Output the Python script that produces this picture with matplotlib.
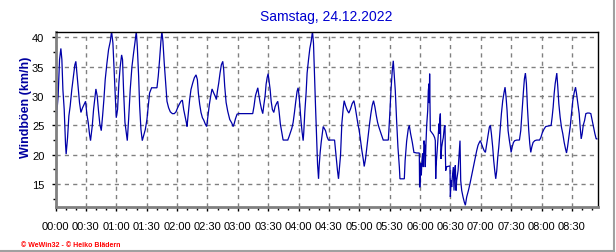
import matplotlib
matplotlib.use("Agg")
import matplotlib.pyplot as plt
from matplotlib.lines import Line2D
from matplotlib.ticker import MultipleLocator

plt.rcParams['font.family'] = ['Liberation Sans', 'DejaVu Sans']

# minutes since 00:00 and gust speed in km/h
minutes = [
    0, 1.3, 2.6, 4.0, 5.3, 6.3, 7.3, 8.6, 9.9, 10.5, 11.9, 13.2, 14.5, 16.1, 17.8,
    19.1, 20.1, 21.1, 22.4, 23.7, 25.1, 26.7, 28.4, 29.7, 31.0, 32.3, 33.6, 34.6,
    36.3, 37.6, 38.9, 39.9, 41.2, 42.5, 43.8, 45.2, 46.5, 47.8, 49.1, 50.8, 52.4,
    54.1, 55.4, 56.7, 58.0, 59.3, 60.0, 61.3, 62.6, 63.9, 65.3, 66.2, 67.2, 68.6,
    69.9, 70.9, 72.2, 73.8, 75.5, 77.1, 78.4, 79.8, 80.8, 82.1, 83.1, 84.4, 85.7,
    87.0, 88.7, 90.3, 91.6, 92.9, 94.9, 97.6, 100.2, 101.5, 102.8, 104.1, 105.1,
    106.1, 107.4, 108.8, 110.1, 111.7, 113.4, 115.4, 117.3, 119.0, 120.6, 122.3,
    123.9, 125.3, 126.6, 127.9, 129.2, 129.9, 131.2, 132.5, 133.8, 135.5, 137.1,
    138.8, 140.1, 141.1, 142.4, 143.7, 145.1, 146.4, 148.0, 149.3, 150.6, 152.0,
    153.3, 154.6, 156.3, 157.9, 158.9, 159.9, 161.2, 162.5, 163.8, 165.2, 166.1,
    167.1, 168.5, 170.1, 172.1, 174.1, 175.4, 176.5, 177.7, 179.3, 180.9, 185.9,
    190.9, 194.8, 196.1, 197.4, 198.8, 199.8, 200.7, 202.1, 203.4, 204.7, 205.7,
    207.0, 208.0, 209.0, 210.0, 211.0, 212.0, 213.0, 214.2, 215.6, 216.9, 218.2,
    219.5, 220.8, 222.1, 223.5, 224.8, 227.1, 229.4, 230.7, 232.0, 233.4, 234.7,
    236.0, 237.3, 238.6, 239.6, 240.6, 241.6, 242.6, 243.6, 244.6, 245.2, 246.2,
    247.5, 248.5, 249.9, 251.2, 252.5, 253.8, 254.8, 255.8, 256.8, 257.8, 258.8,
    259.8, 260.4, 261.4, 262.4, 263.4, 264.4, 265.4, 266.7, 268.3, 269.6, 271.0,
    273.6, 275.6, 276.6, 277.5, 278.5, 279.5, 280.2, 281.5, 282.8, 284.1, 285.1,
    286.4, 288.1, 289.7, 291.4, 293.0, 294.7, 296.0, 297.3, 298.6, 300.0, 301.3,
    302.6, 303.9, 304.9, 306.2, 307.5, 308.9, 310.2, 311.5, 312.8, 314.1, 315.5,
    316.8, 318.1, 319.4, 320.7, 322.1, 323.7, 325.4, 328.7, 330.0, 331.3, 332.6,
    333.6, 334.3, 335.6, 336.9, 338.2, 339.6, 340.2, 341.9, 344.5, 345.3, 346.8,
    348.4, 349.4, 350.7, 352.4, 354.0, 356.7, 359.3, 359.6, 360.0, 360.6, 361.3,
    361.9, 362.6, 363.3, 363.9, 364.6, 365.2, 365.9, 366.6, 367.6, 368.2, 368.9,
    369.2, 369.5, 369.9, 370.2, 371.5, 373.2, 374.5, 375.1, 375.5, 375.8, 376.5,
    377.4, 378.1, 378.8, 379.1, 379.4, 380.1, 380.4, 380.7, 381.4, 382.4, 383.0,
    384.0, 384.7, 385.0, 385.4, 386.0, 387.3, 389.6, 390.0, 390.6, 391.3, 391.9,
    392.9, 393.6, 394.3, 394.9, 395.6, 396.2, 397.6, 398.5, 399.2, 399.5, 400.2,
    401.2, 402.5, 403.8, 404.8, 406.1, 407.8, 409.4, 410.7, 412.0, 413.4, 414.7,
    416.0, 417.3, 418.6, 419.6, 420.6, 421.9, 423.3, 424.6, 425.9, 427.2, 428.5,
    429.5, 430.5, 431.8, 432.8, 433.8, 434.8, 435.8, 436.8, 437.8, 439.1, 440.4,
    441.7, 443.0, 444.0, 445.0, 446.0, 447.0, 448.3, 449.3, 450.0, 451.0, 452.3,
    453.6, 455.6, 458.2, 459.5, 460.8, 462.2, 463.1, 464.1, 465.1, 466.1, 467.4,
    468.4, 469.4, 470.4, 471.7, 473.4, 475.3, 478.0, 479.3, 480.9, 482.6, 484.2,
    486.9, 489.5, 490.5, 491.5, 492.5, 493.5, 494.5, 495.1, 496.1, 497.1, 498.4,
    499.7, 501.0, 502.4, 503.7, 504.7, 505.7, 507.0, 508.3, 509.6, 510.9, 512.3,
    513.6, 514.6, 515.9, 517.2, 518.2, 519.2, 520.2, 521.2, 522.5, 523.8, 525.4,
    527.1, 528.7, 530.1, 531.4, 532.7, 534.0, 534.7,
]
gusts = [
    22.4, 27.2, 30.0, 36.2, 38.1, 36.2, 31.1, 27.7, 21.8, 20.1, 22.9, 26.6, 28.3, 31.1, 33.4,
    35.3, 35.9, 33.9, 31.4, 28.9, 27.2, 28.0, 28.6, 29.1, 26.9, 25.5, 23.5, 22.4,
    24.9, 27.7, 29.7, 31.2, 30.0, 27.4, 25.2, 24.1, 26.6, 29.4, 32.8, 35.6, 37.9,
    39.3, 41.0, 39.0, 33.9, 28.6, 26.3, 27.7, 32.2, 35.0, 37.0, 36.2, 31.1, 25.5,
    23.8, 22.4, 26.0, 31.1, 35.0, 37.3, 39.0, 41.0, 38.4, 33.4, 28.3, 24.3, 22.4,
    23.2, 24.3, 26.0, 28.3, 30.5, 31.4, 31.4, 31.4, 33.4, 36.2, 39.3, 41.0,
    39.3, 35.6, 32.2, 29.1, 28.0, 27.3, 27.0, 27.0, 27.3, 28.0, 28.6,
    29.1, 29.3, 27.7, 26.6, 25.5, 24.8, 27.2, 29.4, 31.1, 32.2, 33.1,
    33.6, 32.8, 30.5, 28.6, 27.2, 26.3, 25.9, 25.2, 24.8, 26.6, 28.6,
    30.0, 31.2, 30.5, 29.9, 29.4, 30.8, 32.2, 33.9, 35.3, 35.9, 34.5,
    31.7, 28.9, 27.4, 26.0, 25.4, 24.8, 25.3, 26.1, 26.9, 27.0, 27.0,
    27.0, 27.0, 28.3, 30.0, 30.8, 31.4, 30.3, 28.9, 27.8, 27.0, 28.4,
    30.0, 32.0, 33.1, 33.8, 32.5, 31.1, 29.1, 27.7, 27.2, 28.2, 28.7,
    29.1, 27.4, 25.2, 23.8, 22.5, 22.5, 22.5, 23.1, 23.8, 24.5, 25.5,
    27.2, 29.1, 30.8, 31.4, 30.0, 27.7, 25.5, 23.8, 22.4, 23.8, 27.2,
    30.5, 33.9, 36.2, 38.1, 39.3, 41.0, 39.0, 33.4, 28.3, 23.2, 18.4,
    15.9, 18.1, 20.4, 22.1, 23.5, 24.8, 24.5, 24.1, 23.0, 22.5, 22.5,
    22.5, 22.5, 20.7, 19.0, 17.3, 15.9, 17.3, 19.9, 25.3, 27.8, 29.2,
    28.4, 27.6, 27.1, 27.8, 28.7, 29.2, 28.1, 26.7, 25.3, 24.1, 22.4,
    20.7, 19.3, 18.0, 19.3, 21.3, 23.3, 25.3, 27.0, 28.4, 29.2, 28.1,
    26.7, 25.5, 24.7, 24.0, 23.3, 22.5, 22.5, 22.5, 26.4, 30.9, 34.3,
    36.0, 34.3, 30.9, 25.8, 21.3, 17.9, 15.9, 15.9, 15.9, 19.0, 22.3,
    24.4, 25.0, 23.6, 22.1, 20.4, 20.3, 20.3, 14.5, 14.5, 18.5, 16.5,
    19.0, 20.2, 17.9, 22.4, 21.6, 17.9, 22.0, 25.0, 27.5, 30.9, 32.1,
    28.8, 33.8, 28.2, 24.1, 23.8, 23.4, 22.9, 22.4, 15.9, 17.9, 19.6,
    21.6, 23.6, 25.3, 23.6, 25.8, 27.0, 23.6, 19.3, 21.3, 22.4, 22.9,
    24.7, 25.0, 20.7, 17.3, 17.9, 18.0, 18.1, 12.8, 15.6, 14.5, 16.2,
    17.9, 13.9, 17.3, 18.2, 13.9, 15.6, 17.3, 19.6, 21.3, 22.4, 15.6,
    13.9, 12.8, 11.9, 11.4, 12.8, 13.9, 15.1, 16.2, 17.3, 18.5, 19.6,
    20.7, 21.6, 22.1, 22.4, 21.9, 21.3, 20.7, 20.4, 21.9, 23.3, 24.7,
    25.0, 23.6, 21.3, 19.0, 17.3, 15.9, 17.3, 19.6, 21.3, 24.1, 27.0,
    29.2, 30.6, 31.5, 29.8, 27.5, 24.1, 22.4, 21.3, 20.4, 21.3, 22.1,
    22.4, 22.5, 22.5, 24.1, 27.5, 30.9, 32.9, 33.9, 32.1, 28.1, 24.1,
    21.9, 20.4, 21.3, 22.1, 22.4, 22.5, 22.5, 22.9, 23.8, 24.4, 24.8,
    24.9, 25.0, 26.4, 28.1, 30.4, 32.1, 33.2, 33.9, 31.5, 28.7, 26.4,
    24.7, 23.6, 22.1, 21.0, 20.3, 21.3, 23.0, 24.7, 27.0, 29.2, 30.6,
    31.5, 30.4, 28.7, 27.0, 24.7, 22.7, 23.6, 25.0, 25.8, 27.0, 27.1,
    27.1, 27.0, 25.8, 24.7, 23.6, 22.7, 22.7,
]

tick_minutes = list(range(0, 511, 30))
tick_labels = ["%02d:%02d" % (m // 60, m % 60) for m in tick_minutes]
y_ticks = [15, 20, 25, 30, 35, 40]

W, H = 616, 253
fig = plt.figure(figsize=(W / 100, H / 100), dpi=100)
fig.patch.set_facecolor("white")

# axes box in pixel coords: left 55.5, right 597.7, top 33, bottom 208
ax = fig.add_axes([55.5 / W, 1 - 208 / H, (597.7 - 55.5) / W, (208 - 33) / H])

ax.plot(minutes, gusts, color="#0000A8", lw=0.9, solid_joinstyle="miter")

ax.set_xlim(0, 535.5)
ax.set_ylim(11.1, 40.9)

ax.set_xticks(tick_minutes)
ax.set_xticklabels(tick_labels)
ax.xaxis.set_minor_locator(MultipleLocator(10))
ax.set_yticks(y_ticks)
ax.yaxis.set_minor_locator(MultipleLocator(2.5))

ax.grid(True, which="major", color="#808080", linestyle=(0, (3, 3)), lw=1)
ax.tick_params(which="major", length=3, width=1, color="black", labelsize=8,
               labelcolor="black")
ax.tick_params(axis="x", which="major", pad=7)
ax.tick_params(axis="y", which="major", pad=5)
ax.tick_params(which="minor", length=2, width=1, color="black")

for side in ("top", "right"):
    ax.spines[side].set_color("black")
    ax.spines[side].set_linewidth(1)
for side in ("left", "bottom"):
    ax.spines[side].set_color("#808080")
    ax.spines[side].set_linewidth(2)

fig.text(326.5 / W, 1 - 17.5 / H, "Samstag, 24.12.2022", color="#0000D0",
         fontsize=10, ha="center", va="center")
fig.text(26 / W, 1 - 107.5 / H, "Windböen (km/h)", color="#0000A0",
         fontsize=9, fontweight="bold", rotation=90, ha="center", va="center")
fig.text(21 / W, 1 - 246 / H, "© WeWin32 - © Heiko Blädern", color="#FF0000",
         fontsize=5, fontweight="bold", ha="left", va="center")

# window frame on the right and bottom
fig.add_artist(Line2D([614 / W, 614 / W], [1 - 251.5 / H, 1], transform=fig.transFigure,
                      color="#A0A0A0", lw=1.5))
fig.add_artist(Line2D([0, 614 / W], [1 - 251.5 / H, 1 - 251.5 / H],
                      transform=fig.transFigure, color="#A0A0A0", lw=1.5))

fig.savefig("out.png", dpi=100)
